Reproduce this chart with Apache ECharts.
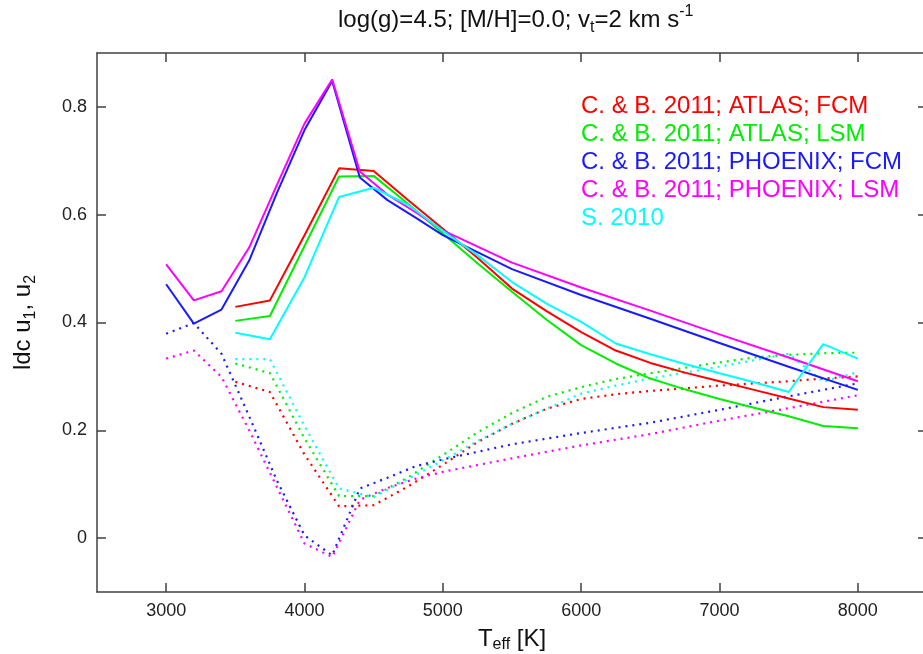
<!DOCTYPE html>
<html>
<head>
<meta charset="utf-8">
<script src="https://cdn.jsdelivr.net/npm/echarts@6/dist/echarts.min.js"></script>
<style>
html,body{margin:0;padding:0;background:#fff;}
#chart{width:923px;height:654px;}
</style>
</head>
<body>
<div id="chart"></div>
<script>
// ---- data ----
var phxT = [3000,3200,3400,3600,3800,4000,4200,4400,4600,4800,5000,5500,6000,6500,7000,7500,8000];
var phxFcmU1 = [0.471,0.398,0.424,0.515,0.640,0.757,0.848,0.669,0.627,0.595,0.562,0.499,0.451,0.407,0.362,0.318,0.275];
var phxLsmU1 = [0.508,0.441,0.458,0.539,0.655,0.769,0.851,0.680,0.637,0.605,0.571,0.511,0.465,0.422,0.378,0.335,0.291];
var phxFcmU2 = [0.379,0.399,0.342,0.226,0.107,0.005,-0.032,0.092,0.112,0.133,0.146,0.174,0.195,0.214,0.238,0.263,0.287];
var phxLsmU2 = [0.333,0.348,0.299,0.200,0.095,-0.010,-0.035,0.071,0.093,0.110,0.123,0.148,0.172,0.193,0.218,0.241,0.265];

var atlasT = [3500,3750,4000,4250,4500,4750,5000,5250,5500,5750,6000,6250,6500,6750,7000,7250,7500,7750,8000];
var atlasFcmU1 = [0.429,0.441,0.562,0.686,0.681,0.627,0.574,0.520,0.463,0.421,0.382,0.348,0.325,0.307,0.291,0.275,0.259,0.243,0.238];
var atlasLsmU1 = [0.403,0.412,0.542,0.671,0.672,0.620,0.565,0.510,0.457,0.405,0.358,0.324,0.296,0.276,0.258,0.242,0.226,0.208,0.204];
var atlasFcmU2 = [0.290,0.271,0.155,0.059,0.061,0.096,0.136,0.178,0.212,0.240,0.258,0.267,0.273,0.278,0.283,0.287,0.291,0.296,0.300];
var atlasLsmU2 = [0.324,0.306,0.185,0.078,0.078,0.113,0.154,0.196,0.232,0.262,0.280,0.295,0.306,0.316,0.326,0.335,0.340,0.343,0.344];

var singT = [3500,3750,4000,4250,4500,4750,5000,5250,5500,5750,6000,6250,6500,6750,7000,7250,7500,7750,8000];
var singU1 = [0.381,0.369,0.484,0.633,0.650,0.618,0.570,0.525,0.475,0.435,0.401,0.361,0.341,0.323,0.306,0.289,0.271,0.360,0.333];
var singU2 = [0.332,0.332,0.208,0.092,0.076,0.110,0.144,0.180,0.212,0.240,0.268,0.283,0.296,0.307,0.318,0.330,0.342,0.290,0.308];

var xTicks = [3000,4000,5000,6000,7000,8000];
var yTicks = [0,0.2,0.4,0.6,0.8];

var names = ['C. & B. 2011; ATLAS; FCM','C. & B. 2011; ATLAS; LSM','C. & B. 2011; PHOENIX; FCM','C. & B. 2011; PHOENIX; LSM','S. 2010'];
var colors = ['#ff0000','#00ee00','#1a1aff','#ff00ff','#00ffff'];

function pairs(xs, ys){ return xs.map(function(x,i){ return [x, ys[i]]; }); }

var solidSets = [[atlasT,atlasFcmU1],[atlasT,atlasLsmU1],[phxT,phxFcmU1],[phxT,phxLsmU1],[singT,singU1]];
var dotSets   = [[atlasT,atlasFcmU2],[atlasT,atlasLsmU2],[phxT,phxFcmU2],[phxT,phxLsmU2],[singT,singU2]];

var series = [];
for (var i = 0; i < names.length; i++) {
  series.push({type:'line', name:names[i], data:pairs(solidSets[i][0], solidSets[i][1]), showSymbol:false, symbol:'none', animation:false,
    lineStyle:{color:colors[i], width:2}, itemStyle:{color:colors[i]}, z:3});
}
for (var j = 0; j < names.length; j++) {
  series.push({type:'line', name:names[j], data:pairs(dotSets[j][0], dotSets[j][1]), showSymbol:false, symbol:'none', animation:false,
    lineStyle:{color:colors[j], width:2.2, type:[2,5]}, itemStyle:{color:colors[j]}, z:2});
}

var axisCol = '#404040';
var FF = 'Liberation Sans';
var chart = echarts.init(document.getElementById('chart'), null, {renderer:'canvas'});
chart.setOption({
  backgroundColor:'#fff',
  animation:false,
  title:{
    left:333, top:-1,
    text:'log(g)=4.5; [M/H]=0.0; v{sub|t}=2 km s{sup|-1}',
    textStyle:{fontFamily:FF, fontSize:24, fontWeight:'normal', color:'#111', lineHeight:32,
      rich:{
        sub:{fontFamily:FF, fontSize:16, color:'#111', verticalAlign:'bottom', lineHeight:16},
        sup:{fontFamily:FF, fontSize:16, color:'#111', verticalAlign:'top', lineHeight:20}
      }}
  },
  legend:{
    orient:'vertical', left:576, top:94, itemWidth:0, itemHeight:0, itemGap:4, padding:0,
    icon:'rect', selectedMode:false,
    data:names.map(function(n,k){ return {name:n, textStyle:{color:colors[k]}}; }),
    textStyle:{fontFamily:FF, fontSize:24, lineHeight:22.5}
  },
  grid:{left:97, right:-4, top:53, bottom:62, containLabel:false, outerBoundsMode:'none'},
  xAxis:[{
    type:'value', min:2500, max:8500, position:'bottom',
    name:'T{sub|eff} [K]', nameLocation:'middle', nameGap:8,
    nameTextStyle:{fontFamily:FF, fontSize:24, color:'#111', lineHeight:28, verticalAlign:'top',
      rich:{sub:{fontFamily:FF, fontSize:16, color:'#111', verticalAlign:'bottom', lineHeight:12}}},
    axisLine:{show:true, onZero:false, lineStyle:{color:axisCol, width:1.5}},
    axisTick:{show:true, inside:true, length:9, customValues:xTicks, lineStyle:{color:axisCol, width:1.5}},
    axisLabel:{customValues:xTicks, formatter:function(v){ return String(v); }, fontFamily:FF, fontSize:18, color:'#222', margin:10},
    splitLine:{show:false}
  },{
    type:'value', min:2500, max:8500, position:'top',
    axisLine:{show:true, onZero:false, lineStyle:{color:axisCol, width:1.5}},
    axisTick:{show:true, inside:true, length:9, customValues:xTicks, lineStyle:{color:axisCol, width:1.5}},
    axisLabel:{show:false}, splitLine:{show:false}
  }],
  yAxis:[{
    type:'value', min:-0.1, max:0.9, position:'left',
    name:'ldc u{sub|1}, u{sub|2}', nameLocation:'middle', nameGap:58, nameRotate:90,
    nameTextStyle:{fontFamily:FF, fontSize:24, color:'#111', lineHeight:32,
      rich:{sub:{fontFamily:FF, fontSize:16, color:'#111', verticalAlign:'bottom', lineHeight:14}}},
    axisLine:{show:true, onZero:false, lineStyle:{color:axisCol, width:1.5}},
    axisTick:{show:true, inside:true, length:9, customValues:yTicks, lineStyle:{color:axisCol, width:1.5}},
    axisLabel:{customValues:yTicks, formatter:function(v){ return String(Math.round(v*10)/10); }, fontFamily:FF, fontSize:18, color:'#222', margin:10},
    splitLine:{show:false}
  },{
    type:'value', min:-0.1, max:0.9, position:'right',
    axisLine:{show:true, onZero:false, lineStyle:{color:axisCol, width:1.5}},
    axisTick:{show:true, inside:true, length:9, customValues:yTicks, lineStyle:{color:axisCol, width:1.5}},
    axisLabel:{show:false}, splitLine:{show:false}
  }],
  series:series
});
</script>
</body>
</html>
